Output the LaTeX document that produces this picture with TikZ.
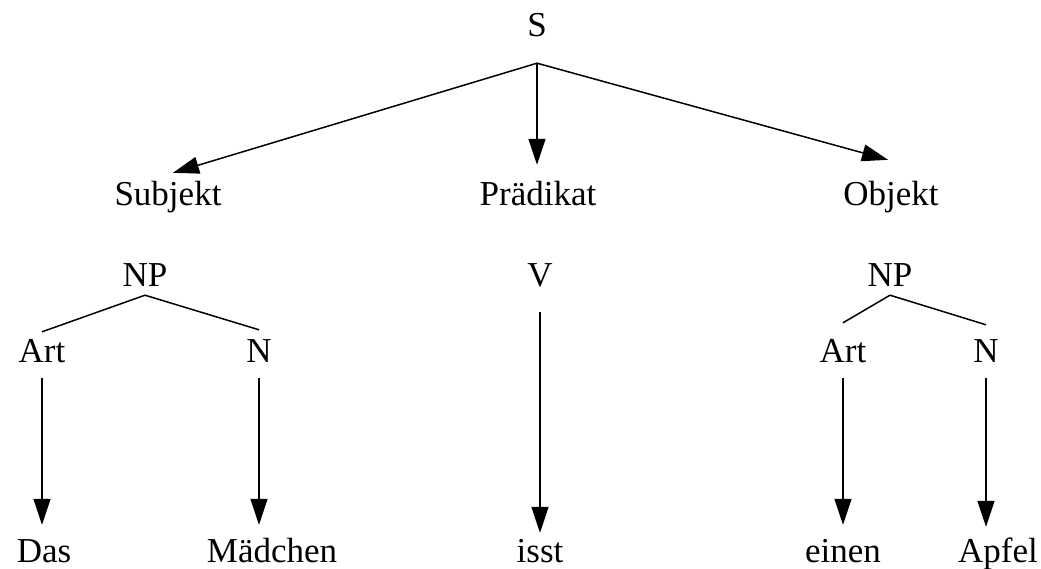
\documentclass[tikz,border=0pt]{standalone}
\usepackage{fontspec}
\setmainfont{Liberation Serif}
\usetikzlibrary{arrows.meta}
\begin{document}
\begin{tikzpicture}[x=1pt,y=-1pt,
  word/.style={anchor=base,inner sep=0pt,text height=24pt,text depth=8pt,
    font=\fontsize{35}{40}\selectfont},
  branch/.style={line width=1.5pt},
  arrowline/.style={line width=1.5pt,-{Triangle[length=26pt,width=17pt]}}]
\useasboundingbox (0,0) rectangle (1041,569);

% sentence level
\node[word] (S) at (537,37) {S};
\node[word] (Subj) at (168,206) {Subjekt};
\node[word] (Pred) at (538,206) {Prädikat};
\node[word] (Obj) at (891,206) {Objekt};

% phrase level
\node[word] (NPl) at (145,287) {NP};
\node[word] (V) at (540,287) {V};
\node[word] (NPr) at (890,287) {NP};

% word classes
\node[word] (ArtL) at (42,362) {Art};
\node[word] (NL) at (259,362) {N};
\node[word] (ArtR) at (843,362) {Art};
\node[word] (NR) at (986,362) {N};

% words
\node[word] (Das) at (44,562) {Das};
\node[word] (Mad) at (272,562) {Mädchen};
\node[word] (isst) at (540,562) {isst};
\node[word] (einen) at (843,562) {einen};
\node[word] (Apfel) at (998,562) {Apfel};

% root of the sentence arrows
\coordinate (Sroot) at ([yshift=-18pt]S.south);
\draw[arrowline] (Sroot) -- ([xshift=5pt,yshift=9pt]Subj.north);
\draw[arrowline] (Sroot) -- ([yshift=17pt]Sroot |- Pred.north);
\draw[arrowline] (Sroot) -- ([xshift=-3pt,yshift=22pt]Obj.north);

% noun phrase branches
\draw[branch] (NPl.south) -- ([yshift=6pt]ArtL.north);
\draw[branch] (NPl.south) -- ([yshift=8pt]NL.north);
\draw[branch] (NPr.south) -- ([yshift=15pt]ArtR.north);
\draw[branch] (NPr.south) -- ([yshift=13pt]NR.north);

% lexical arrows
\draw[arrowline] ([yshift=-8pt]ArtL.south) -- ([yshift=13pt]ArtL.south |- Das.north);
\draw[arrowline] ([yshift=-8pt]NL.south) -- ([yshift=13pt]NL.south |- Mad.north);
\draw[arrowline] ([yshift=-17pt]V.south) -- ([yshift=5pt]V.south |- isst.north);
\draw[arrowline] ([yshift=-8pt]ArtR.south) -- ([yshift=13pt]ArtR.south |- einen.north);
\draw[arrowline] ([yshift=-8pt]NR.south) -- ([yshift=11pt]NR.south |- Apfel.north);
\end{tikzpicture}
\end{document}
